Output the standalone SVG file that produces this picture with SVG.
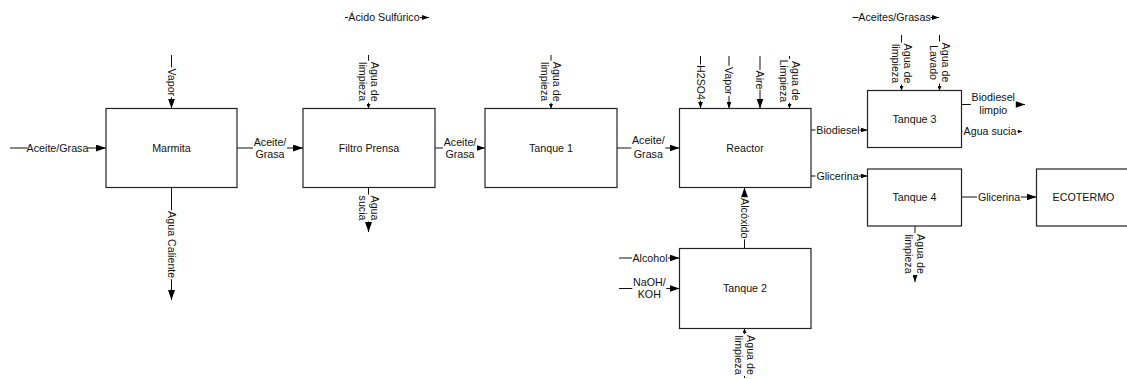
<svg xmlns="http://www.w3.org/2000/svg" width="1127" height="379" viewBox="0 0 1127 379">
<style>
text{font-family:"Liberation Sans",Arial,sans-serif;font-size:10.7px;fill:#111;text-anchor:middle}
.box{fill:#fff;stroke:#222;stroke-width:1.2}
.ln{fill:none;stroke:#111;stroke-width:1}
.bg{fill:#fff}
.big{marker-end:url(#ab)}
.med{marker-end:url(#am)}
.sml{marker-end:url(#as)}
</style>
<defs>
<marker id="ab" markerUnits="userSpaceOnUse" markerWidth="10" markerHeight="7" refX="10" refY="3.5" orient="auto"><path d="M0,0 L10,3.5 L0,7 z" fill="#000"/></marker>
<marker id="am" markerUnits="userSpaceOnUse" markerWidth="7" markerHeight="5" refX="7" refY="2.5" orient="auto"><path d="M0,0 L7,2.5 L0,5 z" fill="#000"/></marker>
<marker id="as" markerUnits="userSpaceOnUse" markerWidth="4.5" markerHeight="4" refX="4.5" refY="2" orient="auto"><path d="M0,0 L4.5,2 L0,4 z" fill="#000"/></marker>
</defs>
<rect width="1127" height="379" fill="#fff"/>

<g id="connectors">
<line class="ln big" x1="10" y1="148" x2="106" y2="148"/>
<line class="ln big" x1="171.5" y1="55" x2="171.5" y2="108.5"/>
<line class="ln big" x1="171.5" y1="187.5" x2="171.5" y2="300"/>
<line class="ln big" x1="237" y1="148" x2="303" y2="148"/>
<line class="ln sml" x1="368.5" y1="55" x2="368.5" y2="108.5"/>
<line class="ln big" x1="368.5" y1="187.5" x2="368.5" y2="232"/>
<line class="ln big" x1="435" y1="148" x2="485" y2="148"/>
<line class="ln sml" x1="551" y1="55" x2="551" y2="108.5"/>
<line class="ln big" x1="617" y1="148" x2="679.5" y2="148"/>
<line class="ln med" x1="700.5" y1="56" x2="700.5" y2="108.5"/>
<line class="ln med" x1="729" y1="56" x2="729" y2="108.5"/>
<line class="ln big" x1="760" y1="56" x2="760" y2="108.5"/>
<line class="ln sml" x1="789.5" y1="56" x2="789.5" y2="108.5"/>
<line class="ln med" x1="811" y1="130" x2="867.5" y2="130"/>
<line class="ln med" x1="811" y1="176" x2="867.5" y2="176"/>
<line class="ln big" x1="744.5" y1="248.5" x2="744.5" y2="187.5"/>
<line class="ln big" x1="619" y1="258" x2="679.5" y2="258"/>
<line class="ln big" x1="619" y1="288.5" x2="679.5" y2="288.5"/>
<line class="ln sml" x1="744.5" y1="378" x2="744.5" y2="328.5"/>
<line class="ln sml" x1="901.5" y1="35" x2="901.5" y2="90.5"/>
<line class="ln sml" x1="939.5" y1="35" x2="939.5" y2="90.5"/>
<line class="ln big" x1="961.5" y1="104.5" x2="1025" y2="104.5"/>
<line class="ln sml" x1="961.5" y1="131.5" x2="1022" y2="131.5"/>
<line class="ln big" x1="961.5" y1="197" x2="1036.5" y2="197"/>
<line class="ln med" x1="915" y1="225.5" x2="915" y2="282"/>
<line class="ln med" x1="345" y1="17.5" x2="429" y2="17.5"/>
<line class="ln med" x1="852.5" y1="17.5" x2="939" y2="17.5"/>

<g transform="translate(57.5,148)"><rect class="bg" x="-30" y="-6" width="60" height="12"/><text y="3.8">Aceite/Grasa</text></g>
<g transform="translate(171.5,82.3) rotate(90)"><rect class="bg" x="-15" y="-6" width="30" height="12"/><text y="3.8">Vapor</text></g>
<g transform="translate(171.5,244.7) rotate(90)"><rect class="bg" x="-34.5" y="-6" width="69" height="12"/><text y="3.8">Agua Caliente</text></g>
<g transform="translate(270,148)"><rect class="bg" x="-17" y="-12.5" width="34" height="25"/><text y="-2.5">Aceite/</text><text y="10">Grasa</text></g>
<g transform="translate(368.5,81.7) rotate(90)"><rect class="bg" x="-21" y="-12" width="42" height="24"/><text y="-2.2">Agua de</text><text y="9.8">limpieza</text></g>
<g transform="translate(368.5,208) rotate(90)"><rect class="bg" x="-13.5" y="-12" width="27" height="24"/><text y="-2.2">Agua</text><text y="9.8">sucia</text></g>
<g transform="translate(460,148)"><rect class="bg" x="-17" y="-12.5" width="34" height="25"/><text y="-2.5">Aceite/</text><text y="10">Grasa</text></g>
<g transform="translate(551,81.7) rotate(90)"><rect class="bg" x="-21" y="-12" width="42" height="24"/><text y="-2.2">Agua de</text><text y="9.8">limpieza</text></g>
<g transform="translate(648.3,147.5)"><rect class="bg" x="-17" y="-12.5" width="34" height="25"/><text y="-3.5">Aceite/</text><text y="10.5">Grasa</text></g>
<g transform="translate(700.5,82.5) rotate(90)"><rect class="bg" x="-18" y="-6" width="36" height="12"/><text y="3.8">H2SO4</text></g>
<g transform="translate(729,80.8) rotate(90)"><rect class="bg" x="-15" y="-6" width="30" height="12"/><text y="3.8">Vapor</text></g>
<g transform="translate(760,80) rotate(90)"><rect class="bg" x="-10" y="-6" width="20" height="12"/><text y="3.8">Aire</text></g>
<g transform="translate(789.5,80.8) rotate(90)"><rect class="bg" x="-22" y="-12" width="44" height="24"/><text y="-2.2">Agua de</text><text y="9.8">Limpieza</text></g>
<g transform="translate(838,130)"><rect class="bg" x="-22.5" y="-6" width="44" height="12"/><text y="3.8">Biodiesel</text></g>
<g transform="translate(837.5,176)"><rect class="bg" x="-22" y="-6" width="43" height="12"/><text y="3.8">Glicerina</text></g>
<g transform="translate(744.5,218.3) rotate(90)"><rect class="bg" x="-21" y="-6" width="42" height="12"/><text y="3.8">Alcóxido</text></g>
<g transform="translate(650,258)"><rect class="bg" x="-18" y="-6" width="36" height="12"/><text y="3.8">Alcohol</text></g>
<g transform="translate(649.3,288)"><rect class="bg" x="-17" y="-12.5" width="34" height="25"/><text y="-2.5">NaOH/</text><text y="10">KOH</text></g>
<g transform="translate(744.5,355) rotate(90)"><rect class="bg" x="-21" y="-12" width="42" height="24"/><text y="-2.2">Agua de</text><text y="9.8">limpieza</text></g>
<g transform="translate(901.5,63.5) rotate(90)"><rect class="bg" x="-21" y="-12" width="42" height="24"/><text y="-2.2">Agua de</text><text y="9.8">limpieza</text></g>
<g transform="translate(939.5,62.5) rotate(90)"><rect class="bg" x="-21" y="-12" width="42" height="24"/><text y="-2.2">Agua de</text><text y="9.8">Lavado</text></g>
<g transform="translate(993.3,104)"><rect class="bg" x="-22.5" y="-12.5" width="45" height="25"/><text y="-2.9">Biodiesel</text><text y="9.8">limpio</text></g>
<g transform="translate(990,131.5)"><rect class="bg" x="-27.5" y="-6" width="55" height="12"/><text y="3.8">Agua sucia</text></g>
<g transform="translate(999,197)"><rect class="bg" x="-22" y="-6" width="44" height="12"/><text y="3.8">Glicerina</text></g>
<g transform="translate(915,254) rotate(90)"><rect class="bg" x="-21" y="-12" width="42" height="24"/><text y="-2.2">Agua de</text><text y="9.8">limpieza</text></g>
<g transform="translate(384,17.5)"><rect class="bg" x="-36" y="-6" width="72" height="12"/><text y="3.8">Ácido Sulfúrico</text></g>
<g transform="translate(894.5,17.5)"><rect class="bg" x="-36" y="-6" width="72" height="12"/><text y="3.8">Aceites/Grasas</text></g>
</g>

<g id="marmita"><rect class="box" x="106" y="108.5" width="131" height="79"/><text x="171.5" y="151.8">Marmita</text></g>
<g id="filtro-prensa"><rect class="box" x="303" y="108.5" width="132" height="79"/><text x="369" y="151.8">Filtro Prensa</text></g>
<g id="tanque-1"><rect class="box" x="485" y="108.5" width="132" height="79"/><text x="551" y="151.8">Tanque 1</text></g>
<g id="reactor"><rect class="box" x="679.5" y="108.5" width="131.5" height="79"/><text x="745" y="151.8">Reactor</text></g>
<g id="tanque-2"><rect class="box" x="679.5" y="248.5" width="131.5" height="80"/><text x="745" y="292">Tanque 2</text></g>
<g id="tanque-3"><rect class="box" x="867.5" y="90.5" width="94" height="57"/><text x="914.5" y="123">Tanque 3</text></g>
<g id="tanque-4"><rect class="box" x="867.5" y="169" width="94" height="57"/><text x="914.5" y="201.3">Tanque 4</text></g>
<g id="ecotermo"><rect class="box" x="1036.5" y="169" width="94" height="57"/><text x="1083.5" y="201.3">ECOTERMO</text></g>
</svg>
